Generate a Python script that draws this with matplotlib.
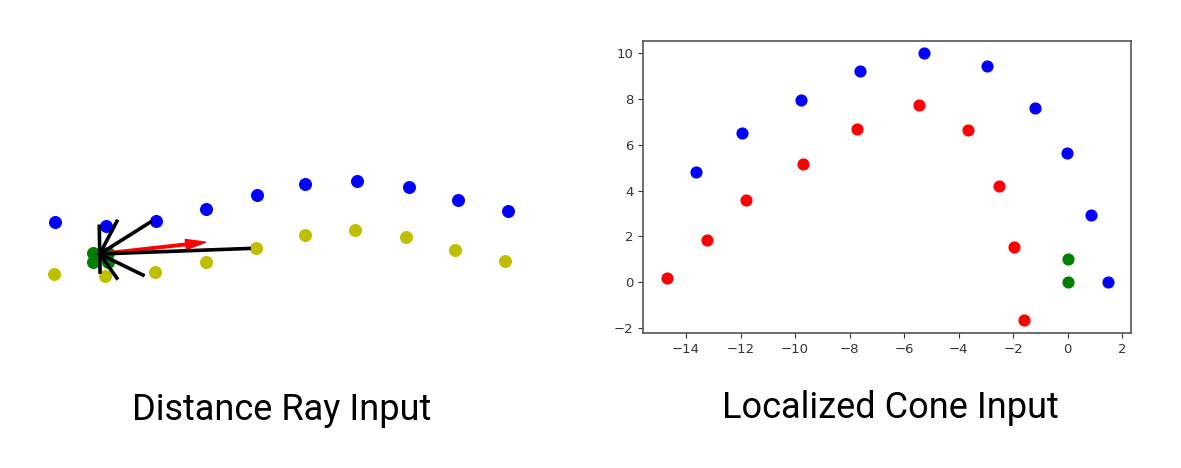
import numpy as np
from matplotlib import pyplot as plt

# left panel: distance rays (scale: 1 unit = spacing between cones)
ray_blue_x = [0, 1.02, 2.01, 3.01, 4.01, 4.97, 6.00, 7.03, 8.02, 9.01]
ray_blue_y = [0.67, 0.60, 0.69, 0.93, 1.22, 1.43, 1.50, 1.37, 1.11, 0.90]
ray_yellow_x = [-0.02, 1.0, 1.98, 3.0, 3.99, 4.97, 5.96, 6.98, 7.96, 8.95]
ray_yellow_y = [-0.36, -0.40, -0.32, -0.11, 0.15, 0.42, 0.52, 0.37, 0.11, -0.09]
ray_green_x = [0.76, 0.76, 1.05, 1.05]
ray_green_y = [0.06, -0.12, 0.06, -0.12]
ray_origin = (0.89, 0.04)
ray_end_x = [0.88, 1.23, 1.89, 3.86, 1.75, 1.23, 0.89]
ray_end_y = [0.59, 0.69, 0.67, 0.15, -0.38, -0.44, -0.32]
heading = (3.0, 0.23)

# right panel: localized cones
cone_blue_x = [-13.63, -11.94, -9.78, -7.61, -5.27, -2.95, -1.19, -0.02, 0.86, 1.5]
cone_blue_y = [4.82, 6.53, 7.97, 9.20, 9.99, 9.42, 7.62, 5.65, 2.93, 0.0]
cone_red_x = [-14.70, -13.23, -11.80, -9.71, -7.73, -5.45, -3.65, -2.51, -1.96, -1.60]
cone_red_y = [0.20, 1.84, 3.59, 5.17, 6.70, 7.75, 6.66, 4.20, 1.53, -1.66]
cone_green_x = [0, 0]
cone_green_y = [0, 1]

fig = plt.figure(figsize=(11.81, 4.68), dpi=100)

# left
ax1 = fig.add_axes([30/1181, 1-300/468, 500/1181, 140/468])
ax1.scatter(ray_blue_x, ray_blue_y, color='blue', s=70, zorder=2)
ax1.scatter(ray_yellow_x, ray_yellow_y, color='y', s=70, zorder=2)
ax1.scatter(ray_green_x, ray_green_y, color='green', s=70, zorder=2)
ox, oy = ray_origin
ax1.arrow(ox, oy, heading[0]-ox-0.4, heading[1]-oy, color='red', width=0.05,
          head_width=0.2, head_length=0.4, length_includes_head=False, zorder=3)
for ex, ey in zip(ray_end_x, ray_end_y):
    ax1.plot([ox, ex], [oy, ey], color='black', linewidth=2.6, zorder=4)
ax1.set_xlim((30-55)/50.3, (530-55)/50.3)
ax1.set_ylim(-(300-256)/50.3, (256-160)/50.3)
ax1.axis('off')

# right
ax2 = fig.add_axes([643/1181, 1-333/468, 488/1181, 292/468])
ax2.scatter(cone_blue_x, cone_blue_y, color='blue', s=60)
ax2.scatter(cone_red_x, cone_red_y, color='red', s=60)
ax2.scatter(cone_green_x, cone_green_y, color='green', s=60)
ax2.set_xlim(-15.58, 2.33)
ax2.set_ylim(-2.22, 10.53)
ax2.set_xticks([-14, -12, -10, -8, -6, -4, -2, 0, 2])
ax2.set_yticks([-2, 0, 2, 4, 6, 8, 10])
ax2.tick_params(labelsize=9.5, colors='#333333')
for sp in ax2.spines.values():
    sp.set_color('#555555')
    sp.set_linewidth(1.2)

fig.text(282/1181, 1-410/468, 'Distance Ray Input', family='Roboto', fontsize=26,
         ha='center', va='center')
fig.text(890/1181, 1-408/468, 'Localized Cone Input', family='Roboto', fontsize=26,
         ha='center', va='center')

plt.savefig('out.png', dpi=100)
